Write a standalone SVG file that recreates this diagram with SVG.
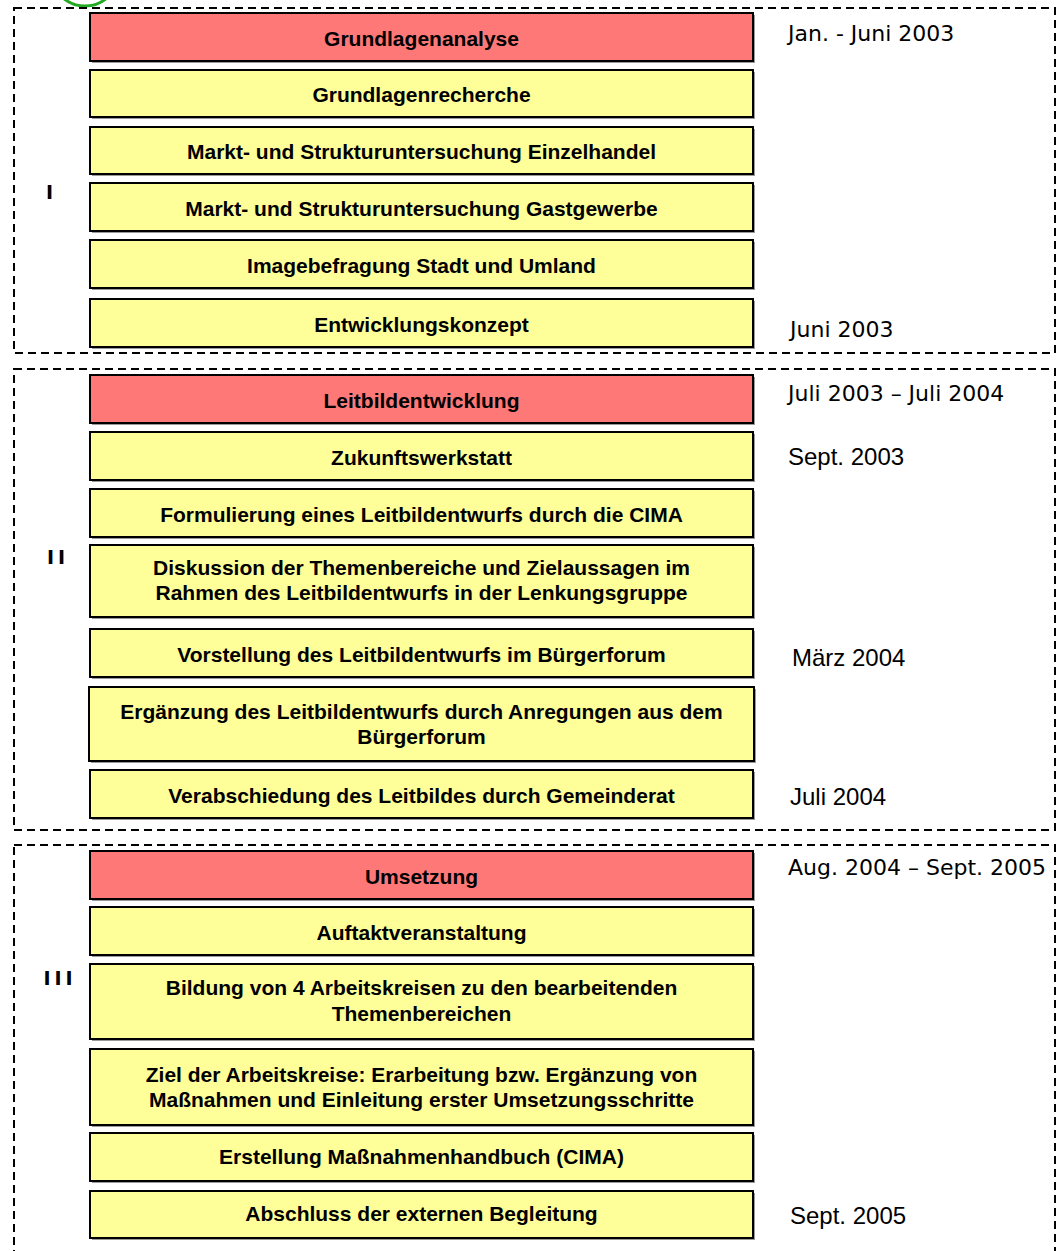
<svg xmlns="http://www.w3.org/2000/svg" width="1061" height="1251" viewBox="0 0 1061 1251">
<style>
.frame{fill:none;stroke:#000;stroke-width:2;stroke-dasharray:8 5}
.shadow{fill:#9a9a9a}
.red{fill:#FF7878;stroke:#000;stroke-width:2}
.yel{fill:#FFFF99;stroke:#000;stroke-width:2}
.lbl{font-family:"Liberation Sans",Arial,sans-serif;font-weight:bold;font-size:21px;fill:#000;text-anchor:middle}
.date{font-family:"DejaVu Sans",Verdana,sans-serif;font-size:22px;fill:#000}
.date2{font-family:"Liberation Sans",Arial,sans-serif;font-size:24px;fill:#000}
.roman{font-family:"DejaVu Sans",Verdana,sans-serif;font-weight:bold;font-size:19px;fill:#000;text-anchor:middle;letter-spacing:4px}
</style>
<rect width="1061" height="1251" fill="#fff"/>
<circle cx="85" cy="-28" r="34" fill="none" stroke="#22AA22" stroke-width="3"/>
<g id="frames">
<rect class="frame" x="14" y="8" width="1041" height="345"/>
<rect class="frame" x="14" y="369" width="1041" height="461"/>
<rect class="frame" x="14" y="845" width="1041" height="420"/>
</g>
<g id="phases">
<text class="roman" x="51.5" y="199">I</text>
<text class="roman" x="58" y="564">II</text>
<text class="roman" x="60" y="985">III</text>
</g>
<g id="connectors"></g>
<g id="n1"><rect class="shadow" x="92" y="15" width="663" height="48"/><rect class="red" x="90" y="13" width="663" height="48"/><text class="lbl" x="421.5" y="46">Grundlagenanalyse</text></g>
<g id="n2"><rect class="shadow" x="92" y="72" width="663" height="47"/><rect class="yel" x="90" y="70" width="663" height="47"/><text class="lbl" x="421.5" y="102">Grundlagenrecherche</text></g>
<g id="n3"><rect class="shadow" x="92" y="129" width="663" height="47"/><rect class="yel" x="90" y="127" width="663" height="47"/><text class="lbl" x="421.5" y="159">Markt- und Strukturuntersuchung Einzelhandel</text></g>
<g id="n4"><rect class="shadow" x="92" y="185" width="663" height="48"/><rect class="yel" x="90" y="183" width="663" height="48"/><text class="lbl" x="421.5" y="216">Markt- und Strukturuntersuchung Gastgewerbe</text></g>
<g id="n5"><rect class="shadow" x="92" y="242" width="663" height="48"/><rect class="yel" x="90" y="240" width="663" height="48"/><text class="lbl" x="421.5" y="273">Imagebefragung Stadt und Umland</text></g>
<g id="n6"><rect class="shadow" x="92" y="301" width="663" height="48"/><rect class="yel" x="90" y="299" width="663" height="48"/><text class="lbl" x="421.5" y="332">Entwicklungskonzept</text></g>

<g id="n7"><rect class="shadow" x="92" y="377" width="663" height="48"/><rect class="red" x="90" y="375" width="663" height="48"/><text class="lbl" x="421.5" y="408">Leitbildentwicklung</text></g>
<g id="n8"><rect class="shadow" x="92" y="434" width="663" height="48"/><rect class="yel" x="90" y="432" width="663" height="48"/><text class="lbl" x="421.5" y="465">Zukunftswerkstatt</text></g>
<g id="n9"><rect class="shadow" x="92" y="491" width="663" height="48"/><rect class="yel" x="90" y="489" width="663" height="48"/><text class="lbl" x="421.5" y="522">Formulierung eines Leitbildentwurfs durch die CIMA</text></g>
<g id="n10"><rect class="shadow" x="92" y="547" width="663" height="72"/><rect class="yel" x="90" y="545" width="663" height="72"/><text class="lbl" x="421.5" y="575">Diskussion der Themenbereiche und Zielaussagen im</text><text class="lbl" x="421.5" y="600">Rahmen des Leitbildentwurfs in der Lenkungsgruppe</text></g>
<g id="n11"><rect class="shadow" x="92" y="631" width="663" height="48"/><rect class="yel" x="90" y="629" width="663" height="48"/><text class="lbl" x="421.5" y="662">Vorstellung des Leitbildentwurfs im Bürgerforum</text></g>
<g id="n12"><rect class="shadow" x="91" y="689" width="665" height="74"/><rect class="yel" x="89" y="687" width="665" height="74"/><text class="lbl" x="421.5" y="719">Ergänzung des Leitbildentwurfs durch Anregungen aus dem</text><text class="lbl" x="421.5" y="744">Bürgerforum</text></g>
<g id="n13"><rect class="shadow" x="92" y="772" width="663" height="48"/><rect class="yel" x="90" y="770" width="663" height="48"/><text class="lbl" x="421.5" y="803">Verabschiedung des Leitbildes durch Gemeinderat</text></g>

<g id="n14"><rect class="shadow" x="92" y="853" width="663" height="48"/><rect class="red" x="90" y="851" width="663" height="48"/><text class="lbl" x="421.5" y="884">Umsetzung</text></g>
<g id="n15"><rect class="shadow" x="92" y="909" width="663" height="48"/><rect class="yel" x="90" y="907" width="663" height="48"/><text class="lbl" x="421.5" y="940">Auftaktveranstaltung</text></g>
<g id="n16"><rect class="shadow" x="92" y="966" width="663" height="75"/><rect class="yel" x="90" y="964" width="663" height="75"/><text class="lbl" x="421.5" y="995">Bildung von 4 Arbeitskreisen zu den bearbeitenden</text><text class="lbl" x="421.5" y="1021">Themenbereichen</text></g>
<g id="n17"><rect class="shadow" x="92" y="1051" width="663" height="76"/><rect class="yel" x="90" y="1049" width="663" height="76"/><text class="lbl" x="421.5" y="1082">Ziel der Arbeitskreise: Erarbeitung bzw. Ergänzung von</text><text class="lbl" x="421.5" y="1107">Maßnahmen und Einleitung erster Umsetzungsschritte</text></g>
<g id="n18"><rect class="shadow" x="92" y="1135" width="663" height="48"/><rect class="yel" x="90" y="1133" width="663" height="48"/><text class="lbl" x="421.5" y="1164">Erstellung Maßnahmenhandbuch (CIMA)</text></g>
<g id="n19"><rect class="shadow" x="92" y="1193" width="663" height="47"/><rect class="yel" x="90" y="1191" width="663" height="47"/><text class="lbl" x="421.5" y="1221">Abschluss der externen Begleitung</text></g>

<g id="dates">
<text class="date" x="788" y="41">Jan. - Juni 2003</text>
<text class="date" x="790" y="337">Juni 2003</text>
<text class="date" x="788" y="401">Juli 2003 – Juli 2004</text>
<text class="date2" x="788" y="465">Sept. 2003</text>
<text class="date2" x="792" y="666">März 2004</text>
<text class="date2" x="790" y="805">Juli 2004</text>
<text class="date" x="788" y="875">Aug. 2004 – Sept. 2005</text>
<text class="date2" x="790" y="1224">Sept. 2005</text>
</g>
</svg>
